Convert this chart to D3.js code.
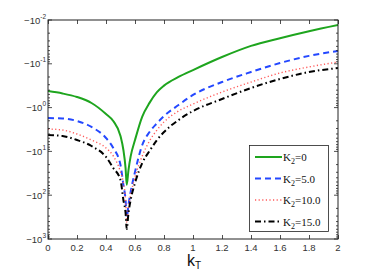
<!DOCTYPE html>
<html>
<head>
<meta charset="utf-8">
<script src="https://cdn.jsdelivr.net/npm/d3@7"></script>
<style>
  body { margin: 0; background: #fff; }
  svg { display: block; }
</style>
</head>
<body>
<div id="chart"></div>
<script>
// k_T sample points shared by all curves
var kT = [0, 0.1, 0.2, 0.3, 0.4, 0.45, 0.5, 0.52, 0.535, 0.543, 0.555, 0.57, 0.6, 0.65, 0.7, 0.75, 0.8, 0.9, 1.0, 1.2, 1.4, 1.6, 1.8, 2.0];

// (values are negative, log axis)
var k2_0  = [-0.42, -0.476, -0.573, -0.785, -1.4, -2.02, -4.45, -9.3, -24, -58, -26.6, -13, -5.5, -1.6, -0.78, -0.45, -0.315, -0.2, -0.139, -0.07, -0.039, -0.026, -0.018, -0.013];
var k2_5  = [-1.73, -1.77, -2.02, -2.77, -4.94, -8.36, -20.5, -58.5, -129, -315, -167, -84.5, -29.5, -7.14, -3.61, -2.3, -1.56, -0.873, -0.515, -0.261, -0.154, -0.096, -0.066, -0.051];
var k2_10 = [-3.08, -3.25, -4.01, -5.5, -8.36, -12.7, -29.5, -52.6, -129, -409, -186, -98.9, -38.4, -12.7, -5.79, -3.3, -2.13, -1.2, -0.828, -0.441, -0.261, -0.162, -0.118, -0.091];
var k2_15 = [-4.23, -4.45, -5.5, -7.53, -13.4, -23.9, -45, -129, -255, -591, -255, -129, -52.6, -18.4, -9.8, -5.6, -3.61, -1.92, -1.2, -0.637, -0.357, -0.222, -0.154, -0.125];

var seriesNames = ["0", "5.0", "10.0", "15.0"];
var seriesData = [k2_0, k2_5, k2_10, k2_15];
var seriesColors = ["#1ea51e", "#2448ff", "#ff5a5a", "#000000"];

var xTicks = [0, 0.2, 0.4, 0.6, 0.8, 1, 1.2, 1.4, 1.6, 1.8, 2];
var yExps = [-2, -1, 0, 1, 2, 3];

var W = 374, H = 270;
var margin = {top: 20, right: 36, bottom: 31, left: 48};

var svg = d3.select("#chart").append("svg")
    .attr("width", W)
    .attr("height", H);

var x = d3.scaleLinear().domain([0, 2]).range([margin.left, W - margin.right]);
var y = d3.scaleLog().domain([-0.01, -1000]).range([margin.top, H - margin.bottom]);

svg.append("clipPath").attr("id", "clip")
  .append("rect")
    .attr("x", margin.left).attr("y", margin.top)
    .attr("width", W - margin.left - margin.right)
    .attr("height", H - margin.top - margin.bottom);

// curves
var line = d3.line()
    .curve(d3.curveMonotoneX)
    .x(function(d, i) { return x(kT[i]); })
    .y(function(d) { return y(d); });

var dashes = [null, "6,4", "1.2,2.4", "6,3,1.5,3"];
var widths = [2, 2, 1.4, 2];

var curves = svg.append("g").attr("clip-path", "url(#clip)");
seriesData.forEach(function(s, i) {
    curves.append("path")
        .datum(s)
        .attr("fill", "none")
        .attr("stroke", seriesColors[i])
        .attr("stroke-width", widths[i])
        .attr("stroke-dasharray", dashes[i])
        .attr("d", line);
});

// frame
var x0 = margin.left, x1 = W - margin.right, y0 = margin.top, y1 = H - margin.bottom;
svg.append("rect")
    .attr("x", x0).attr("y", y0)
    .attr("width", x1 - x0).attr("height", y1 - y0)
    .attr("fill", "none").attr("stroke", "#222").attr("stroke-width", 1);

var ticks = svg.append("g").attr("stroke", "#222").attr("stroke-width", 0.8);

// x ticks top and bottom, inward
xTicks.forEach(function(t) {
    var px = Math.round(x(t)) + 0.5;
    ticks.append("line").attr("x1", px).attr("x2", px).attr("y1", y1).attr("y2", y1 - 4);
    ticks.append("line").attr("x1", px).attr("x2", px).attr("y1", y0).attr("y2", y0 + 4);
});

// y ticks: major and minor on both sides
yExps.forEach(function(e, j) {
    var v = -Math.pow(10, e);
    var py = y(v);
    ticks.append("line").attr("x1", x0).attr("x2", x0 + 4).attr("y1", py).attr("y2", py);
    ticks.append("line").attr("x1", x1).attr("x2", x1 - 4).attr("y1", py).attr("y2", py);
    if (j < yExps.length - 1) {
        for (var m = 2; m < 10; m++) {
            var pm = y(v * m);
            ticks.append("line").attr("x1", x0).attr("x2", x0 + 2).attr("y1", pm).attr("y2", pm);
            ticks.append("line").attr("x1", x1).attr("x2", x1 - 2).attr("y1", pm).attr("y2", pm);
        }
    }
});

// tick labels
var labelFont = "Liberation Sans, Arial, sans-serif";
svg.append("g").selectAll("text").data(xTicks).enter().append("text")
    .attr("x", function(d) { return x(d); })
    .attr("y", y1 + 12)
    .attr("text-anchor", "middle")
    .attr("font-family", labelFont)
    .attr("font-size", 9.5)
    .attr("fill", "#333")
    .text(function(d) { return d; });

var yl = svg.append("g");
yExps.forEach(function(e) {
    var t = yl.append("text")
        .attr("x", 40)
        .attr("y", y(-Math.pow(10, e)) + 3.5)
        .attr("font-family", labelFont)
        .attr("font-size", 9.5)
        .attr("fill", "#333");
    t.append("tspan").text("\u221210");
    t.append("tspan").attr("font-size", 6.5).attr("dy", -5).text(e);
});
yl.selectAll("text").each(function() {
    var w = this.getComputedTextLength();
    d3.select(this).attr("x", 46 - w);
});

// x label
var xl = svg.append("text")
    .attr("x", x(1) - 6)
    .attr("y", 266)
    .attr("font-family", labelFont)
    .attr("font-size", 16)
    .attr("fill", "#111");
xl.append("tspan").text("k");
xl.append("tspan").attr("font-size", 10).attr("dy", 3).text("T");

// legend
var lg = svg.append("g");
lg.append("rect")
    .attr("x", 249.5).attr("y", 145.5)
    .attr("width", 79).attr("height", 86)
    .attr("fill", "#fff").attr("stroke", "#222").attr("stroke-width", 0.8);

seriesNames.forEach(function(n, i) {
    var py = 157 + i * 21.5;
    lg.append("line")
        .attr("x1", 255).attr("x2", 282)
        .attr("y1", py).attr("y2", py)
        .attr("stroke", seriesColors[i])
        .attr("stroke-width", widths[i])
        .attr("stroke-dasharray", dashes[i]);
    var t = lg.append("text")
        .attr("x", 283)
        .attr("y", py + 4)
        .attr("font-family", "Liberation Serif, Times New Roman, serif")
        .attr("font-size", 11)
        .attr("fill", "#111");
    t.append("tspan").text("K");
    t.append("tspan").attr("font-size", 8).attr("dy", 3).text("2");
    t.append("tspan").attr("dy", -3).text("=" + n);
});
</script>
</body>
</html>
